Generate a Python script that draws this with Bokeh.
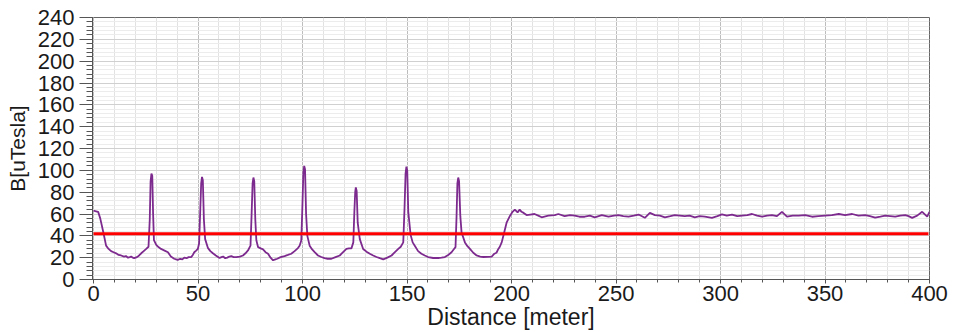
from bokeh.plotting import figure
from bokeh.models import Range1d, SingleIntervalTicker
from bokeh.embed import file_html
from bokeh.resources import INLINE

# Distance [meter] and field B [uTesla]
dist = [0, 1.2, 2.2, 3.2, 4.6, 6.0, 7.2, 8.4, 9.6, 10.8, 12, 13.2, 14.6, 15.5, 16.5, 17.3, 18, 18.8, 19.4, 20.8,
        21.8, 22.8, 24, 25.2, 26.3,
        26.9, 27.3, 27.7, 28.1, 28.5, 28.9, 30.0,
        31.2, 32.3, 34, 35.6, 37, 38.6, 39.5, 40.3, 41.5, 42.5, 43.4, 44.5, 45.5, 46.7, 47.5, 48.2, 49.1, 49.9, 50.5,
        51.0, 51.5, 51.9, 52.3, 52.8, 53.4, 54.7, 55.9, 57.1, 58.5, 60.3, 61.2, 62, 63, 64, 65, 65.9, 67, 68.3, 70,
        71.5, 72.7, 73.9, 75.1,
        75.6, 76.1, 76.5, 76.9, 77.4, 77.9, 78.7, 80, 81.1, 82.3, 83.5, 84.7, 85.9, 87, 87.9, 89.5, 91.4, 93, 94.6,
        96.2, 97.8, 98.6, 99.4,
        99.9, 100.4, 100.8, 101.2, 101.7, 102.3, 103.4, 104.6, 105.8, 107.4, 109, 110.5, 112, 113.8, 115.8, 117.8,
        119.4, 121, 122.2, 123.4, 124.3,
        124.8, 125.2, 125.5, 125.9, 126.4, 127.4, 129, 130.6, 132.2, 133.8, 135.4, 137, 138.6, 140.6, 142.6, 144.2,
        145.8, 147, 148.2,
        148.8, 149.3, 149.7, 150.1, 150.6, 151.7, 152.7, 153.7, 155.3, 156.9, 158.5, 160.1, 162.5, 164.9, 166.5,
        168.1, 169.7, 171.3, 172.3, 173.2,
        173.7, 174.1, 174.5, 174.9, 175.5, 176.1, 177.7, 178.9, 180.1, 181.7, 183.3, 185, 186.6, 188.5, 190.5,
        191.8, 192.8, 193.7, 194.4, 195.3, 196.1, 197.7, 199.3, 200.5, 201.6, 202.9, 203.9, 204.8, 205.8, 207.2,
        209, 211, 212.8, 214.4,
        217.6, 220.7, 222.4, 225.4, 228, 230.2, 232.5, 235, 237.5, 239.8, 243.2, 246.4, 249, 251.2, 253.5, 256,
        258.5, 260.8, 263.8, 266.2, 268.6, 271, 273.4, 276, 278.1, 280.5, 282.9, 285.2, 287.7, 290, 292.5, 295.9,
        298.5, 300.7, 303, 305.5, 308, 310.3, 312.8, 315.1, 317.5, 319.9, 322.3, 324.6, 327, 329.4, 331.8, 334.5,
        337.4, 340.5, 343.8, 346.8, 350, 353.3, 356.6, 359.6, 363, 366, 369.2, 371.5, 374, 376.5, 378.8, 381.2,
        383.6, 386, 388.4, 390, 391.7, 394.1, 396.5, 398.9, 400]
field = [63, 62.5, 62, 56, 44, 31, 28, 26, 25, 24, 22.5, 22, 21, 21.5, 20, 20.5, 21, 20, 19.5, 20.5,
         22, 24, 26, 28, 30,
         55, 90, 97, 95, 60, 36, 31.8,
         29.5, 28, 26.5, 25, 21, 19, 18.5, 18, 19, 18.5, 20, 19.5, 20.5, 20.5, 22.5, 25, 26.5, 28, 33,
         60, 88, 94, 91, 55, 37, 29, 26, 24, 22, 19.7, 20.5, 21, 19.5, 20, 21, 21.5, 20.5, 20.5, 21,
         22, 24, 26.6, 31,
         58, 88, 93.4, 90, 55, 36, 29.7, 28.5, 27.6, 25, 23.6, 20, 17.6, 18.5, 19, 20.5, 21.5, 22.5, 23.6,
         26, 28.8, 31, 35.7,
         65, 98, 104, 101, 60, 40, 31, 27.5, 25, 22, 20.6, 19.5, 19, 19, 20.5, 22,
         25, 28, 28.5, 28.5, 34,
         62, 80, 84.3, 81, 52, 37, 28, 25.5, 23.6, 22, 20.6, 19.5, 18.5, 20, 22, 25,
         28, 30, 34,
         65, 97, 103.4, 100, 62, 41, 34, 31, 26, 23.6, 22, 20.6, 19.7, 19.7, 20,
         20.6, 22.5, 25, 27.5, 29.7,
         58, 88, 93.4, 90, 58, 43, 34, 30.5, 28, 24.5, 22, 21, 20.6, 20.8, 21,
         23.6, 24.5, 28, 30, 34, 40, 52.4, 58.5, 62, 64, 61.5, 64, 62, 61, 59,
         59.5, 60, 58.5, 57,
         58.5, 59, 60, 58, 59, 58.5, 57.5, 57.5, 58.5, 57, 59, 57.5, 58.5, 59, 58, 57.5,
         58.5, 59.5, 56.5, 61, 59, 58.5, 57, 58, 59, 58.5, 58, 58.5, 57, 58, 57.5, 56.5,
         58, 59.7, 58.5, 59.5, 58, 58.5, 59, 60, 58.5, 57.5, 58.5, 59, 58, 62, 57.5, 58.5,
         58.5, 59, 57.5, 58, 58.5, 59, 60, 59, 60, 58.5, 59, 58, 56.6, 57.5, 58.5, 58,
         57.5, 58.5, 59, 58, 56.5, 58.5, 62, 57.5, 62]

limit_x = [0, 399.5]
limit_y = [42, 42]

FONT = "Liberation Sans"

p = figure(width=956, height=332, output_backend="svg", toolbar_location=None,
           x_range=Range1d(-0.5, 400), y_range=Range1d(0, 240),
           min_border_left=92, min_border_right=27, min_border_top=17, min_border_bottom=50,
           background_fill_color="white", border_fill_color="white")

xt = SingleIntervalTicker(interval=50, num_minor_ticks=5)
yt = SingleIntervalTicker(interval=20, num_minor_ticks=5)
p.xaxis.ticker = xt
p.yaxis.ticker = yt
p.xgrid.ticker = xt
p.ygrid.ticker = yt

p.xgrid.grid_line_color = "#bdbdbd"
p.xgrid.minor_grid_line_color = "#e2e2e2"
p.ygrid.grid_line_color = "#d0d0d0"
p.ygrid.minor_grid_line_color = "#ececec"

p.outline_line_color = "#666666"

p.line(dist, field, line_color="#7d2a8e", line_width=1.8)
p.line(limit_x, limit_y, line_color="#ff0000", line_width=3)

for ax in (p.xaxis[0], p.yaxis[0]):
    ax.axis_line_color = "#555555"
    ax.major_tick_line_color = "#555555"
    ax.minor_tick_line_color = "#555555"
    ax.major_label_text_font = FONT
    ax.major_label_text_font_size = "22px"
    ax.major_label_text_color = "#1a1a1a"
    ax.axis_label_text_font = FONT
    ax.axis_label_text_font_style = "normal"
    ax.axis_label_text_color = "#1a1a1a"

p.xaxis.axis_label = "Distance [meter]"
p.xaxis.axis_label_text_font_size = "23px"
p.xaxis.major_tick_in = 0
p.xaxis.major_tick_out = 4
p.xaxis.minor_tick_in = 0
p.xaxis.minor_tick_out = 3
p.xaxis.major_label_standoff = 2
p.xaxis.axis_label_standoff = 0

p.yaxis.axis_label = "B[uTesla]"
p.yaxis.axis_label_text_font_size = "21px"
p.yaxis.major_tick_in = 0
p.yaxis.major_tick_out = 13
p.yaxis.minor_tick_in = 0
p.yaxis.minor_tick_out = 6
p.yaxis.major_label_standoff = 5
p.yaxis.axis_label_standoff = 6

open("out.html", "w").write(file_html(p, INLINE))
